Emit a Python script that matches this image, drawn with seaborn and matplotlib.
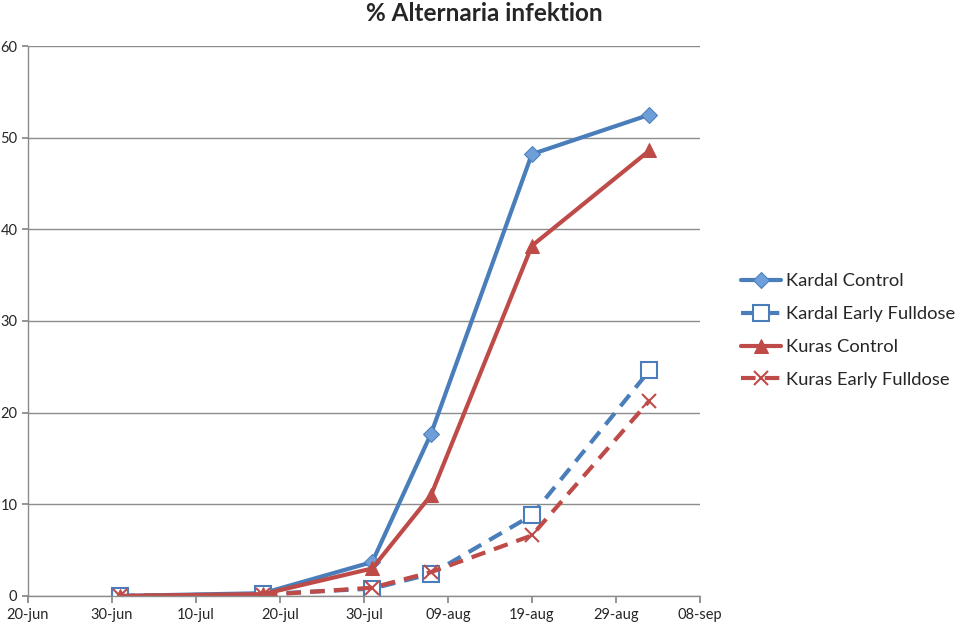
import pandas as pd
import matplotlib
matplotlib.use("Agg")
import matplotlib.pyplot as plt
import seaborn as sns

# data
dates = pd.to_datetime(["2011-07-01", "2011-07-18", "2011-07-31",
                        "2011-08-07", "2011-08-19", "2011-09-02"])
kardal_control = [0.0, 0.3, 3.7, 17.7, 48.2, 52.5]
kardal_early = [0.0, 0.2, 0.8, 2.4, 8.8, 24.6]
kuras_control = [0.0, 0.2, 3.0, 11.0, 38.2, 48.6]
kuras_early = [0.0, 0.1, 0.9, 2.6, 6.6, 21.3]

tick_dates = pd.to_datetime(["2011-06-20", "2011-06-30", "2011-07-10", "2011-07-20",
                             "2011-07-30", "2011-08-09", "2011-08-19", "2011-08-29",
                             "2011-09-08"])
tick_labels = ["20-jun", "30-jun", "10-jul", "20-jul", "30-jul",
               "09-aug", "19-aug", "29-aug", "08-sep"]

sns.set_theme(style="white")
plt.rcParams['font.family'] = ['Lato', 'DejaVu Sans']

blue = "#4A7EBB"
red = "#BE4B48"

fig = plt.figure(figsize=(9.6, 6.26), dpi=100)
ax = fig.add_axes([0.029, 0.048, 0.7, 0.8785])

series = [
    ("Kardal Control", kardal_control, blue, "-", "D", dict(markersize=8, markerfacecolor="#6F9FD8", markeredgecolor=blue)),
    ("Kardal Early Fulldose", kardal_early, blue, "--", "s", dict(markersize=12, markerfacecolor="white", markeredgecolor=blue, markeredgewidth=1.5)),
    ("Kuras Control", kuras_control, red, "-", "^", dict(markersize=10, markerfacecolor=red, markeredgecolor=red)),
    ("Kuras Early Fulldose", kuras_early, red, "--", "x", dict(markersize=10, markeredgecolor=red, markeredgewidth=1.5)),
]

for name, vals, col, ls, mk, kw in series:
    df = pd.DataFrame({"date": dates, "val": vals})
    sns.lineplot(data=df, x="date", y="val", ax=ax, color=col, linewidth=3,
                 linestyle=ls, marker=mk, label=name, **kw)

for line in ax.get_lines():
    if line.get_linestyle() == "--":
        line.set_dashes((3.5, 2.2))

ax.set_xlim(tick_dates[0], tick_dates[-1])
ax.set_xticks(tick_dates)
ax.set_xticklabels(tick_labels, fontsize=10.5)
ax.set_ylim(0, 60)
ax.set_yticks(range(0, 61, 10))
ax.tick_params(axis="y", labelsize=10.5, length=4, color="#888888", direction="out", left=True)
ax.tick_params(axis="x", length=5, color="#888888", direction="out", bottom=True)
ax.yaxis.grid(True, color="#8C8C8C", linewidth=1)
ax.set_axisbelow(True)
ax.set_xlabel("")
ax.set_ylabel("")
for side in ["top", "right"]:
    ax.spines[side].set_visible(False)
for side in ["left", "bottom"]:
    ax.spines[side].set_color("#8C8C8C")
    ax.spines[side].set_linewidth(1)

ax.legend(loc="center left", bbox_to_anchor=(0.772, 0.472), bbox_transform=fig.transFigure,
          frameon=False, fontsize=13.2, handlelength=2.2, labelspacing=0.92,
          handletextpad=0.25, borderaxespad=0, borderpad=0)

fig.text(0.504, 0.997, "% Alternaria infektion", ha="center", va="top",
         fontsize=17.5, fontweight="bold")

fig.savefig("out.png", dpi=100)
